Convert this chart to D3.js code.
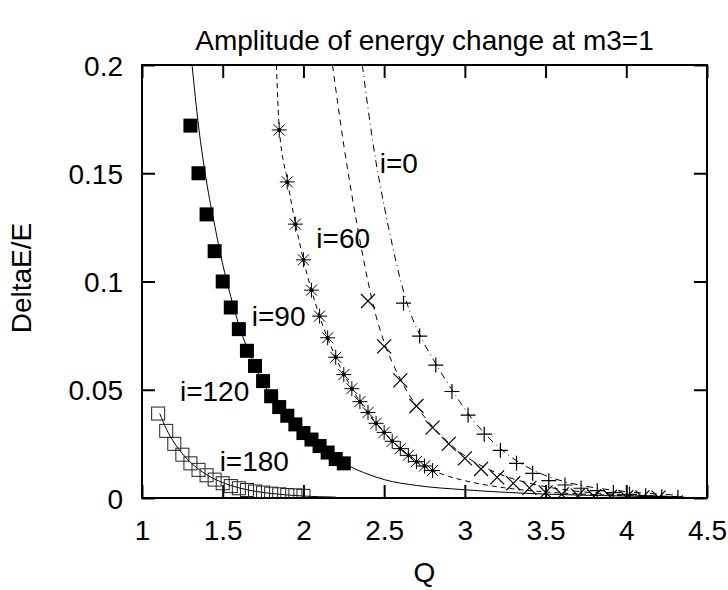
<!DOCTYPE html>
<html>
<head>
<meta charset="utf-8">
<script src="https://cdn.jsdelivr.net/npm/d3@7"></script>
<style>
  body { margin: 0; background: #fff; }
  text { font-family: "Liberation Sans", Arial, Helvetica, sans-serif; fill: #000; }
</style>
</head>
<body>
<svg id="chart" width="728" height="590"></svg>
<script>
// ---------- data ----------
const title = "Amplitude of energy change at m3=1";
const xLabel = "Q";
const yLabel = "DeltaE/E";
const xTicks = [1, 1.5, 2, 2.5, 3, 3.5, 4, 4.5];
const yTicks = [0, 0.05, 0.1, 0.15, 0.2];

// i=180 (open squares)
const q180 = [1.10,1.15,1.20,1.25,1.30,1.35,1.40,1.45,1.50,1.55,1.60,1.65,1.70,1.75,1.80,1.85,1.90,1.95,2.00];
const v180 = [0.039,0.031,0.025,0.020,0.016,0.013,0.0105,0.0085,0.0068,0.0055,0.0045,0.0037,0.0030,0.0025,0.0020,0.0017,0.0014,0.0012,0.0010];
const fitQ180 = [1.11,1.15,1.20,1.25,1.30,1.40,1.50,1.60,1.70,1.80,1.90,2.00,2.20];
const fitV180 = [0.039,0.032,0.0255,0.0205,0.0165,0.0108,0.0071,0.0047,0.0031,0.0021,0.0014,0.0009,0.0004];

// i=120 (filled squares)
const q120 = [1.30,1.35,1.40,1.45,1.50,1.55,1.60,1.65,1.70,1.75,1.80,1.85,1.90,1.95,2.00,2.05,2.10,2.15,2.20,2.25];
const v120 = [0.172,0.150,0.131,0.114,0.100,0.088,0.078,0.068,0.061,0.054,0.047,0.042,0.038,0.034,0.030,0.027,0.024,0.021,0.018,0.016];
const fitQ120 = [1.31,1.35,1.40,1.45,1.50,1.55,1.60,1.70,1.80,1.90,2.00,2.10,2.20,2.29,2.40,2.50,2.70,3.00,3.50,4.00,4.35];
const fitV120 = [0.200,0.172,0.146,0.126,0.108,0.093,0.080,0.061,0.047,0.037,0.0295,0.0235,0.0185,0.0145,0.011,0.0085,0.0058,0.0038,0.0018,0.0009,0.0005];

// i=90 (asterisks)
const q90 = [1.85,1.90,1.95,2.00,2.05,2.10,2.15,2.20,2.25,2.30,2.35,2.40,2.45,2.50,2.55,2.60,2.65,2.70,2.75,2.80];
const v90 = [0.170,0.146,0.1265,0.110,0.096,0.084,0.074,0.065,0.057,0.0505,0.0445,0.0395,0.0345,0.0303,0.0262,0.0228,0.0197,0.0168,0.0148,0.0127];
const fitQ90 = [1.833,1.85,1.90,1.95,2.00,2.10,2.20,2.30,2.40,2.50,2.60,2.70,2.80,2.90,3.00,3.20,3.50,3.80,4.10,4.35];
const fitV90 = [0.200,0.171,0.147,0.127,0.110,0.084,0.065,0.0505,0.0395,0.0303,0.0228,0.0170,0.0128,0.0100,0.0080,0.0052,0.0028,0.0016,0.0009,0.0006];

// i=60 (crosses)
const q60 = [2.4,2.5,2.6,2.7,2.8,2.9,3.0,3.1,3.2,3.3,3.4,3.5,3.6,3.7,3.8,3.9,4.0,4.1,4.2];
const v60 = [0.091,0.070,0.0543,0.0425,0.0325,0.025,0.0183,0.0134,0.0095,0.0068,0.0047,0.0026,0.0017,0.0011,0.0008,0.0006,0.0004,0.0003,0.0002];
const fitQ60 = [2.18,2.25,2.30,2.36,2.40,2.45,2.50,2.60,2.70,2.80,2.90,3.00,3.20,3.40,3.60,3.80,4.00,4.20,4.35];
const fitV60 = [0.200,0.163,0.140,0.115,0.100,0.084,0.072,0.055,0.0425,0.033,0.0255,0.0195,0.0115,0.0068,0.0040,0.0024,0.0014,0.0009,0.0006];

// i=0 (plus)
const q0 = [2.62,2.72,2.82,2.92,3.02,3.12,3.22,3.32,3.42,3.52,3.62,3.72,3.82,3.92,4.02,4.12,4.22,4.32];
const v0 = [0.090,0.0748,0.0614,0.0492,0.0383,0.0295,0.0220,0.0160,0.0114,0.0080,0.0060,0.0045,0.0034,0.0025,0.0017,0.0010,0.0006,0.0003];
const fitQ0 = [2.365,2.40,2.45,2.50,2.55,2.60,2.65,2.72,2.82,2.92,3.02,3.12,3.22,3.32,3.42,3.52,3.62,3.72,3.82,3.92,4.02,4.20,4.35];
const fitV0 = [0.200,0.180,0.155,0.135,0.117,0.101,0.088,0.0755,0.062,0.050,0.039,0.030,0.0228,0.0172,0.013,0.0098,0.0075,0.0058,0.0046,0.0036,0.0028,0.0018,0.0012];

// series labels
const labelText = ["i=0", "i=60", "i=90", "i=120", "i=180"];
const labelQ = [2.473, 2.08, 1.68, 1.235, 1.481];
const labelV = [0.150, 0.1155, 0.0795, 0.0448, 0.0125];

// ---------- layout ----------
const W = 728, H = 590;
const L = 142, R = 707, T = 65, B = 498;
const FS = 28;

const svg = d3.select("#chart");
const x = d3.scaleLinear().domain([1, 4.5]).range([L, R]);
const y = d3.scaleLinear().domain([0, 0.2]).range([B, T]);

svg.append("defs").append("clipPath").attr("id", "clip")
  .append("rect").attr("x", L).attr("y", T).attr("width", R - L).attr("height", B - T);

// axes with inward ticks
const tickLen = 13;
const fmt = d => String(+d.toFixed(3));
const gB = svg.append("g").attr("transform", `translate(0,${B})`)
  .call(d3.axisBottom(x).tickValues(xTicks).tickSize(-tickLen).tickPadding(22).tickFormat(fmt));
const gT = svg.append("g").attr("transform", `translate(0,${T})`)
  .call(d3.axisTop(x).tickValues(xTicks).tickSize(-tickLen).tickFormat(""));
const gL = svg.append("g").attr("transform", `translate(${L},0)`)
  .call(d3.axisLeft(y).tickValues(yTicks).tickSize(-tickLen).tickPadding(19).tickFormat(fmt));
const gR = svg.append("g").attr("transform", `translate(${R},0)`)
  .call(d3.axisRight(y).tickValues(yTicks).tickSize(-tickLen).tickFormat(""));
[gB, gT, gL, gR].forEach(g => {
  g.select(".domain").remove();
  g.selectAll(".tick line").attr("stroke", "#000").attr("stroke-width", 2);
  g.selectAll("text").attr("font-size", FS).attr("font-family", "Liberation Sans, Arial, sans-serif").attr("fill", "#000");
});
gB.selectAll(".tick text").attr("dy", "0.71em");
gL.selectAll(".tick text").attr("dy", "0.36em");

// border
svg.append("rect").attr("x", L).attr("y", T).attr("width", R - L).attr("height", B - T)
  .attr("fill", "none").attr("stroke", "#000").attr("stroke-width", 2);

// titles
svg.append("text").attr("x", (L + R) / 2).attr("y", 50).attr("text-anchor", "middle")
  .attr("font-size", FS).text(title);
svg.append("text").attr("x", (L + R) / 2).attr("y", 582).attr("text-anchor", "middle")
  .attr("font-size", FS).text(xLabel);
svg.append("text").attr("transform", `translate(31,278) rotate(-90)`)
  .attr("text-anchor", "middle").attr("font-size", FS).text(yLabel);

const plot = svg.append("g").attr("clip-path", "url(#clip)");
const line = d3.line().x(d => x(d[0])).y(d => y(d[1])).curve(d3.curveMonotoneX);
const zip = (a, b) => a.map((v, i) => [v, b[i]]);

function fitLine(qs, vs, dash) {
  plot.append("path").datum(zip(qs, vs)).attr("d", line)
    .attr("fill", "none").attr("stroke", "#000").attr("stroke-width", 1)
    .attr("stroke-dasharray", dash);
}
fitLine(fitQ180, fitV180, null);
fitLine(fitQ120, fitV120, null);
fitLine(fitQ90, fitV90, "5,4");
fitLine(fitQ60, fitV60, "6,5");
fitLine(fitQ0, fitV0, "7,4,1,4");

// markers
const mk = plot.append("g");
// open squares
mk.selectAll(".os").data(zip(q180, v180)).join("rect")
  .attr("x", d => x(d[0]) - 6.5).attr("y", d => y(d[1]) - 6.5).attr("width", 13).attr("height", 13)
  .attr("fill", "none").attr("stroke", "#222").attr("stroke-width", 1);
// filled squares
mk.selectAll(".fs").data(zip(q120, v120)).join("rect")
  .attr("x", d => x(d[0]) - 7).attr("y", d => y(d[1]) - 7).attr("width", 14).attr("height", 14)
  .attr("fill", "#000");
// asterisks
const s = 7.5, sd = 5.5;
const ast = mk.selectAll(".as").data(zip(q90, v90)).join("g")
  .attr("transform", d => `translate(${x(d[0])},${y(d[1])})`);
ast.append("path").attr("d", `M${-s},0H${s}M0,${-s}V${s}M${-sd},${-sd}L${sd},${sd}M${-sd},${sd}L${sd},${-sd}`)
  .attr("stroke", "#000").attr("stroke-width", 1).attr("fill", "none");
ast.append("circle").attr("r", 2).attr("fill", "#000");
// crosses
const c = 7;
mk.selectAll(".xx").data(zip(q60, v60)).join("path")
  .attr("d", d => { const px = x(d[0]), py = y(d[1]);
    return `M${px - c},${py - c}L${px + c},${py + c}M${px - c},${py + c}L${px + c},${py - c}`; })
  .attr("stroke", "#000").attr("stroke-width", 1.2).attr("fill", "none");
// plus
const p = 7.5;
mk.selectAll(".pl").data(zip(q0, v0)).join("path")
  .attr("d", d => { const px = x(d[0]), py = y(d[1]);
    return `M${px - p},${py}H${px + p}M${px},${py - p}V${py + p}`; })
  .attr("stroke", "#000").attr("stroke-width", 1.2).attr("fill", "none");

// labels
svg.selectAll(".lbl").data(labelText).join("text")
  .attr("x", (d, i) => x(labelQ[i])).attr("y", (d, i) => y(labelV[i]))
  .attr("font-size", FS).text(d => d);
</script>
</body>
</html>
